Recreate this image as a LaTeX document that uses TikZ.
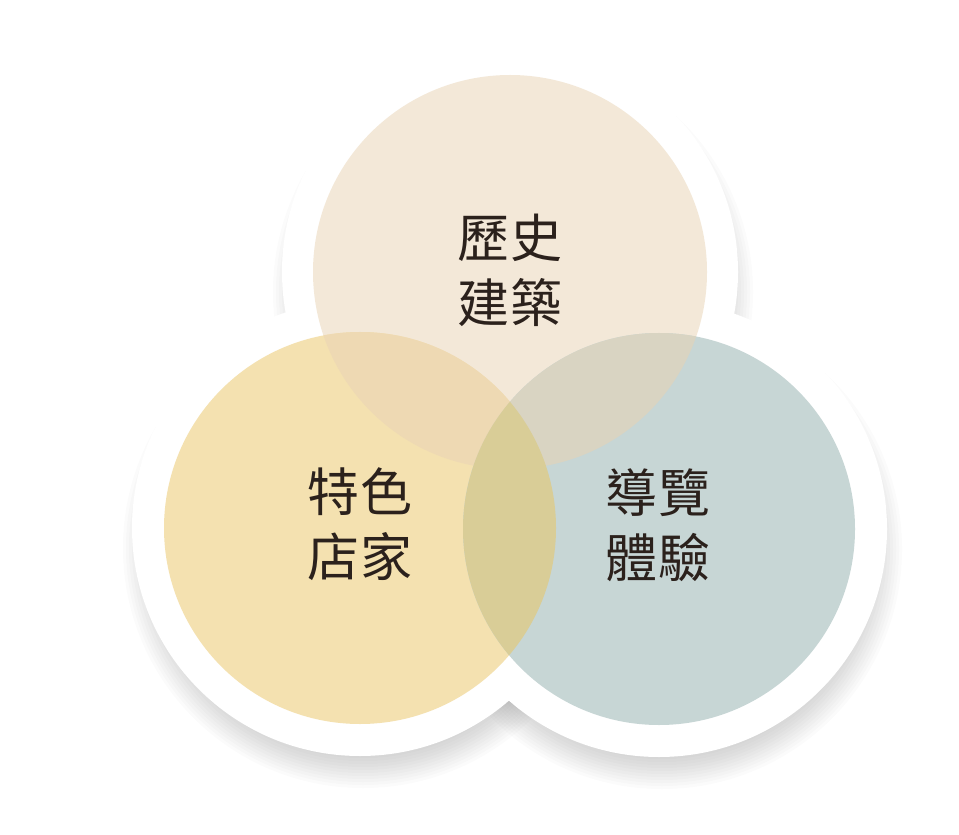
\documentclass[tikz,border=0pt]{standalone}
\usepackage{fontspec}
\newfontfamily\cjk{Noto Sans CJK TC}
\usetikzlibrary{calc}
\definecolor{histcol}{HTML}{F3E8D8}
\definecolor{shopcol}{HTML}{F4E1B0}
\definecolor{tourcol}{HTML}{C7D6D5}
\definecolor{hscol}{HTML}{EED9B3}
\definecolor{htcol}{HTML}{D9D4C2}
\definecolor{stcol}{HTML}{D9CD97}
\definecolor{inkcol}{HTML}{2B211C}

\begin{document}
\begin{tikzpicture}
  [txt/.style={text=inkcol, font=\cjk\fontsize{14.8}{18.5}\selectfont, align=center},
   halo/.style={fill=white}, shadowring/.style={fill=black, opacity=0.014}]
  \useasboundingbox (0,0) rectangle (9.59,8.34);
  \coordinate (hist) at (5.10,5.62);
  \coordinate (shop) at (3.60,3.06);
  \coordinate (tour) at (6.59,3.05);

  % soft shadow, then the white backing
  \foreach \p in {hist,shop,tour}
    \foreach \k in {0,...,10}
      \fill[shadowring] ($(\p)+(0.03,-0.2)$) circle ({2.10+0.03*\k});
  \foreach \p in {hist,shop,tour}
    \fill[halo] (\p) circle (2.28);

  \fill[histcol] (hist) circle (1.97);
  \fill[shopcol] (shop) circle (1.96);
  \fill[tourcol] (tour) circle (1.96);
  \begin{scope}
    \clip (hist) circle (1.97);
    \fill[hscol] (shop) circle (1.96);
    \fill[htcol] (tour) circle (1.96);
  \end{scope}
  \begin{scope}
    \clip (shop) circle (1.96);
    \fill[stcol] (tour) circle (1.96);
  \end{scope}

  \node[txt] (histtext) at (5.10,5.64) {歷史\\建築};
  \node[txt] (shoptext) at (3.60,3.10) {特色\\店家};
  \node[txt] (tourtext) at (6.58,3.09) {導覽\\體驗};
\end{tikzpicture}
\end{document}
